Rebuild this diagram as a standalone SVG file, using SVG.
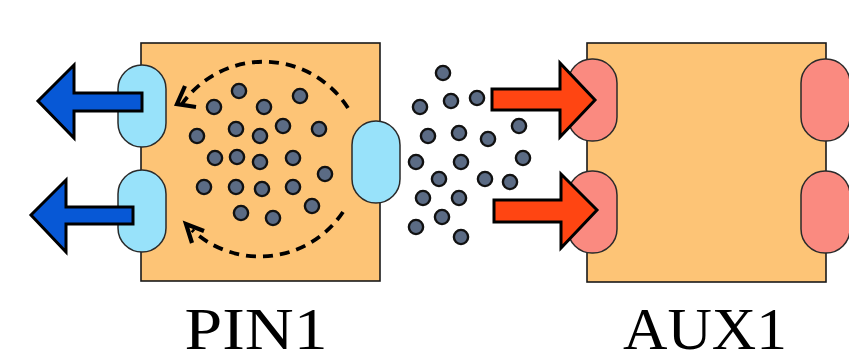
<svg xmlns="http://www.w3.org/2000/svg" width="849" height="353" viewBox="0 0 849 353">
  <style>
    .box { fill: #fdc476; stroke: #1a1a1a; stroke-width: 1.6; }
    .port-in { fill: #98e2fa; stroke: #2a2a2a; stroke-width: 1.5; }
    .port-out { fill: #fa8a80; stroke: #2a2a2a; stroke-width: 1.5; }
    .dot { fill: #5b6b84; stroke: #111; stroke-width: 2.4; }
    .flow-out { fill: #0758d6; stroke: #000; stroke-width: 3; stroke-linejoin: miter; }
    .flow-in { fill: #ff4512; stroke: #000; stroke-width: 3; stroke-linejoin: miter; }
    .swirl { fill: none; stroke: #000; stroke-width: 3.8; stroke-dasharray: 10 7; }
    .chevron { fill: none; stroke: #000; stroke-width: 4.2; stroke-linecap: butt; stroke-linejoin: miter; }
    .label { font-family: "Liberation Serif", "Times New Roman", serif; font-size: 60px; fill: #000; text-anchor: middle; }
  </style>
  <defs>
    <circle id="particle" r="7.1" class="dot"/>
  </defs>

  <!-- PIN1 module -->
  <g id="pin1">
    <rect class="box" x="141" y="43" width="239" height="238"/>
    <rect class="port-in" x="118" y="65" width="48" height="82" rx="24" ry="24"/>
    <rect class="port-in" x="118" y="170" width="48" height="82" rx="24" ry="24"/>
    <rect class="port-in" x="352" y="121" width="48" height="82" rx="24" ry="24"/>
    <!-- internal circulation -->
    <path class="swirl" d="M348,108 A100,100 0 0 0 182,104"/>
    <path class="chevron" d="M185,86 L177,104 L196,107"/>
    <path class="swirl" d="M343,212 A100,100 0 0 1 192,230"/>
    <path class="chevron" d="M204,231 L186,224 L192,243"/>
    <g id="pin1-particles">
      <use href="#particle" x="239" y="91"/>
      <use href="#particle" x="300" y="96"/>
      <use href="#particle" x="214" y="107"/>
      <use href="#particle" x="264" y="107"/>
      <use href="#particle" x="197" y="136"/>
      <use href="#particle" x="236" y="129"/>
      <use href="#particle" x="260" y="136"/>
      <use href="#particle" x="283" y="126"/>
      <use href="#particle" x="319" y="129"/>
      <use href="#particle" x="215" y="158"/>
      <use href="#particle" x="237" y="157"/>
      <use href="#particle" x="260" y="162"/>
      <use href="#particle" x="293" y="158"/>
      <use href="#particle" x="325" y="174"/>
      <use href="#particle" x="204" y="187"/>
      <use href="#particle" x="236" y="187"/>
      <use href="#particle" x="262" y="189"/>
      <use href="#particle" x="293" y="187"/>
      <use href="#particle" x="312" y="206"/>
      <use href="#particle" x="241" y="213"/>
      <use href="#particle" x="273" y="218"/>
    </g>
    <text class="label" x="256" y="349" textLength="143" lengthAdjust="spacingAndGlyphs">PIN1</text>
  </g>

  <!-- particles in transit -->
  <g id="gap-particles">
    <use href="#particle" x="443" y="73"/>
    <use href="#particle" x="420" y="107"/>
    <use href="#particle" x="451" y="101"/>
    <use href="#particle" x="477" y="98"/>
    <use href="#particle" x="428" y="136"/>
    <use href="#particle" x="459" y="133"/>
    <use href="#particle" x="488" y="139"/>
    <use href="#particle" x="519" y="126"/>
    <use href="#particle" x="416" y="162"/>
    <use href="#particle" x="461" y="162"/>
    <use href="#particle" x="523" y="158"/>
    <use href="#particle" x="439" y="179"/>
    <use href="#particle" x="485" y="179"/>
    <use href="#particle" x="510" y="182"/>
    <use href="#particle" x="423" y="198"/>
    <use href="#particle" x="459" y="198"/>
    <use href="#particle" x="442" y="217"/>
    <use href="#particle" x="416" y="227"/>
    <use href="#particle" x="461" y="237"/>
  </g>

  <!-- AUX1 module -->
  <g id="aux1">
    <rect class="box" x="587" y="43" width="239" height="239"/>
    <rect class="port-out" x="568" y="59" width="49" height="82" rx="24" ry="24"/>
    <rect class="port-out" x="568" y="171" width="49" height="82" rx="24" ry="24"/>
    <rect class="port-out" x="801" y="59" width="49" height="82" rx="24" ry="24"/>
    <rect class="port-out" x="801" y="171" width="49" height="82" rx="24" ry="24"/>
    <text class="label" x="705" y="349" textLength="164" lengthAdjust="spacingAndGlyphs">AUX1</text>
  </g>

  <!-- flow arrows -->
  <g id="connectors">
    <path class="flow-out" d="M142,93 L74,93 L74,65 L38,101 L74,138 L74,111 L142,111 Z"/>
    <path class="flow-out" d="M133,207 L66,207 L66,180 L31,215 L66,252 L66,224 L133,224 Z"/>
    <path class="flow-in" d="M492,89 L560,89 L560,63 L595,100 L560,137 L560,110 L492,110 Z"/>
    <path class="flow-in" d="M494,200 L561,200 L561,174 L597,210 L561,248 L561,222 L494,222 Z"/>
  </g>
</svg>
